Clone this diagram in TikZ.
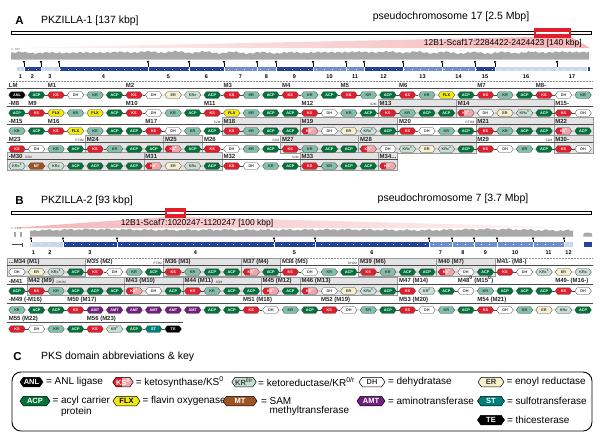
\documentclass[tikz,border=0pt]{standalone}
\usepackage{fontspec}
\setmainfont{Liberation Sans}
\usetikzlibrary{shapes.symbols, positioning}

\definecolor{ksred}{RGB}{226,30,44}
\definecolor{kspink}{RGB}{240,165,168}
\definecolor{acpgreen}{RGB}{0,114,58}
\definecolor{krteal}{RGB}{128,192,168}
\definecolor{krpale}{RGB}{200,224,212}
\definecolor{ercream}{RGB}{246,240,206}
\definecolor{flxyellow}{RGB}{242,232,20}
\definecolor{mtbrown}{RGB}{158,84,34}
\definecolor{amtpurple}{RGB}{112,32,122}
\definecolor{stteal}{RGB}{0,128,124}
\definecolor{genedark}{RGB}{36,66,152}
\definecolor{genemid}{RGB}{112,142,204}
\definecolor{genelight}{RGB}{202,214,238}
\definecolor{scafpink}{RGB}{244,180,182}
\definecolor{covgrey}{RGB}{168,168,168}
\definecolor{modgrey}{RGB}{228,228,228}

% domain labels
\newcommand\dtANL{ANL}
\newcommand\dtACP{ACP}
\newcommand\dtKS{KS}
\newcommand\dtKSo{KS\textsuperscript{0}}
\newcommand\dtKR{KR}
\newcommand\dtKRo{KR\textsuperscript{0}}
\newcommand\dtKRc{KRc}
\newcommand\dtKRco{KRc\textsuperscript{0}}
\newcommand\dtDH{DH}
\newcommand\dtER{ER}
\newcommand\dtFLX{FLX}
\newcommand\dtMT{MT}
\newcommand\dtAMT{AMT}
\newcommand\dtST{ST}
\newcommand\dtTE{TE}

\tikzset{
  dom/.style={signal, signal to=east and west, signal pointer angle=110,
    minimum width=16.5pt, minimum height=6.5pt, inner sep=0pt,
    draw=black!75, line width=0.3pt, font=\fontsize{3.8}{4}\selectfont\bfseries},
  leg/.style={dom, minimum height=9.5pt, line width=0.5pt, draw=black,
    font=\fontsize{7.5}{8}\selectfont\bfseries},
  dANL/.style={fill=black, text=white},
  dACP/.style={fill=acpgreen, text=white},
  dKS/.style={fill=ksred, text=white},
  dKSo/.style={fill=kspink, text=white, path picture={\fill[ksred]
    (path picture bounding box.south west) rectangle ([xshift=-1.5pt]path picture bounding box.north);}},
  dKR/.style={fill=krteal, text=black!80},
  dKRo/.style={fill=krpale, text=black!75},
  dKRc/.style={fill=krpale, text=black!75},
  dKRco/.style={fill=krpale, text=black!75},
  dDH/.style={fill=white, text=black!75},
  dER/.style={fill=ercream, text=black!80},
  dFLX/.style={fill=flxyellow, text=black},
  dMT/.style={fill=mtbrown, text=white},
  dAMT/.style={fill=amtpurple, text=white},
  dST/.style={fill=stteal, text=white},
  dTE/.style={fill=black, text=white},
  linker/.style={black!70, line width=0.4pt},
  modline/.style={black!70, line width=0.9pt},
  modlabel/.style={anchor=south west, inner sep=0.4pt, xshift=1pt, text=black!85,
    font=\fontsize{6}{7}\selectfont\bfseries},
  greybox/.style={fill=modgrey, draw=black!40, line width=0.4pt},
  note/.style={inner sep=0.3pt, text=black!80, font=\fontsize{3.2}{3.5}\selectfont},
  panel/.style={inner sep=0pt, font=\fontsize{11.5}{13}\selectfont\bfseries},
  title/.style={inner sep=0pt, font=\fontsize{10.5}{12}\selectfont},
  scaf/.style={inner sep=0pt, font=\fontsize{8.5}{10}\selectfont},
  genenum/.style={inner sep=0pt, font=\fontsize{5.5}{6}\selectfont\bfseries},
  covnum/.style={inner sep=0pt, text=black!60, font=\fontsize{2.8}{3}\selectfont},
  chrom/.style={draw=black, fill=white, line width=1.4pt},
  sep/.style={black!45, line width=0.5pt, dash pattern=on 0.6pt off 0.9pt},
  legtext/.style={inner sep=0.5pt, font=\fontsize{10}{12}\selectfont},
  keybox/.style={draw=black, line width=0.9pt, rounded corners=9pt}
}

% one row of domains, joined by linkers
\newcommand\domrow[3]{%
  \foreach \d [count=\i] in {#3} {
    \node[dom, d\d] (#1-\i) at ({17+(\i-1)*19.52}, #2) {\csname dt\d\endcsname};
    \pgfmathtruncatemacro\j{\i-1}
    \ifnum\j>0 \draw[linker] (#1-\j) -- (#1-\i); \fi
  }}

% module header: [box] name, row y, first domain, last domain, label
\newcommand\modhead[6][]{%
  \pgfmathsetmacro\ms{17+(#4-1.5)*19.52}%
  \pgfmathsetmacro\me{17+(#5-0.5)*19.52}%
  \path[#1] (\ms,#3-14) rectangle (\me,#3+4.5);
  \coordinate (#2-s) at (\ms,#3-7);
  \coordinate (#2-e) at (\me,#3-7);
  \draw[modline] (#2-s) -- (#2-e);
  \node[modlabel] (#2) at (#2-s) {#6};
}

\begin{document}
\begin{tikzpicture}[x=1pt, y=-1pt]
\useasboundingbox (0,0) rectangle (612,440);

% ---------- A: PKZILLA-1 locus ----------
\node[panel] (labA) at (19.5,21) {A};
\node[title, anchor=west] (titA) at (41,21) {PKZILLA-1 [137 kbp]};
\node[title] (chrA) at (451,17) {pseudochromosome 17 [2.5 Mbp]};
\shade[left color=scafpink!10, right color=scafpink] (11,48) -- (534,37) -- (571,37) -- (590,48) -- cycle;
\draw[chrom] (11.7,31.3) rectangle (591.3,34.7);
\fill[ksred] (534,28) rectangle (571,37.5);
\draw[white, line width=1.4pt] (536,33) -- (569,33);
\node[scaf, anchor=east] (scafA) at (582,43) {12B1-Scaf17:2284422-2424423 [140 kbp]};

% coverage
\fill[covgrey] (11,59.5) -- plot[domain=11:589, samples=240] (\x, {52.4+0.8*sin(mod(\x,6.8)*52.94)+0.5*sin(mod(\x,2.63)*136.9)+0.4*sin(mod(\x,1.157)*311.1)+0.4*sin(\x*1.7)}) -- (589,59.5) -- cycle;
\node[covnum, anchor=south west] (covA) at (11,51) {0 - 903};

% genes
\foreach \a/\b/\c/\n in {17/24/genelight/1, 24/41/genedark/2, 41/59/genelight/3, 59/148/genedark/4,
  148/189/genedark/5, 189/224/genedark/6, 224/257/genemid/7, 257/276/genemid/8, 276/313/genedark/9,
  313/346/genemid/10, 346/364/genemid/11, 364/403/genedark/12, 403/442/genemid/13, 442/475/genemid/14,
  475/495/genedark/15, 495/557/genelight/16, 557/587/genelight/17} {
  \fill[\c] (\a,66.5) rectangle (\b,71);
  \node[genenum] (gA\n) at ({(\a+\b)/2},76.5) {\n};
}
\fill[genedark] (587.5,66.5) rectangle (589.5,71);
\draw[white, line width=0.5pt, dash pattern=on 0.6pt off 7.4pt] (20,68.75) -- (586,68.75);
\foreach \x in {24,41,59,148,189,224,257,276,313,346,364,403,442,475,495,557} {
  \draw[white, line width=0.4pt] (\x,66.5) -- (\x,71);
  \fill (\x-1.3,61) -- (\x+1.3,61) -- (\x,63.6) -- cycle;
  \draw[line width=0.3pt] (\x,63) -- (\x,66.5);
}
\draw[sep] (11,81.5) -- (592,81.5);

% modules, row 1
\modhead{mLM}{95}{1}{2}{LM}
\modhead{mA1}{95}{3}{6}{M1}
\modhead{mA2}{95}{7}{11}{M2}
\modhead{mA3}{95}{12}{14}{M3}
\modhead{mA4}{95}{15}{17}{M4}
\modhead{mA5}{95}{18}{20}{M5}
\modhead{mA6}{95}{21}{24}{M6}
\modhead{mA7}{95}{25}{27}{M7}
\modhead{mA8}{95}{28}{30}{M8-}
% row 2
\modhead{mA8b}{113}{1}{1}{-M8}
\modhead{mA9}{113}{2}{6}{M9}
\modhead{mA10}{113}{7}{10}{M10}
\modhead{mA11}{113}{11}{15}{M11}
\modhead{mA12}{113}{16}{19}{M12}
\modhead[greybox]{mA13}{113}{20}{23}{M13}
\modhead[greybox]{mA14}{113}{24}{28}{M14}
\modhead{mA15}{113}{29}{30}{M15-}
\node[note, anchor=south east] (nA13) at ([xshift=-1pt]mA13-s) {S2M};
% row 3
\modhead{mA15b}{131}{1}{2}{-M15}
\modhead{mA16}{131}{3}{7}{M16}
\modhead{mA17}{131}{8}{11}{M17}
\modhead[greybox]{mA18}{131}{12}{15}{M18}
\modhead[greybox]{mA19}{131}{16}{20}{M19}
\modhead{mA20}{131}{21}{24}{M20}
\modhead[greybox]{mA21}{131}{25}{28}{M21}
\modhead[greybox]{mA22}{131}{29}{30}{M22}
\node[note, anchor=south east] (nA18) at ([xshift=-1pt]mA18-s) {S2M};
\node[note, anchor=south east] (nA21) at ([xshift=-1pt]mA21-s) {PT3M};
% row 4
\modhead{mA23}{149}{1}{4}{M23}
\modhead[greybox]{mA24}{149}{5}{8}{M24}
\modhead[greybox]{mA25}{149}{9}{10}{M25}
\modhead{mA26}{149}{11}{14}{M26}
\modhead[greybox]{mA27}{149}{15}{18}{M27}
\modhead[greybox]{mA28}{149}{19}{24}{M28}
\modhead{mA29}{149}{25}{28}{M29}
\modhead[greybox]{mA30}{149}{29}{30}{M30-}
\node[note, anchor=south east] (nA24) at ([xshift=-1pt]mA24-s) {PT3M};
\node[note, anchor=south east] (nA27) at ([xshift=-1pt]mA27-s) {S2M};
\node[note, anchor=south east] (nA30) at ([xshift=-1pt]mA30-s) {S2M};
% row 5
\modhead[greybox]{mA30b}{166}{1}{7}{-M30}
\modhead[greybox]{mA31}{166}{8}{11}{M31}
\modhead{mA32}{166}{12}{15}{M32}
\modhead[greybox]{mA33}{166}{16}{19}{M33}
\modhead[greybox]{mA34}{166}{20}{20}{M34...}
\node[note, anchor=south west] (nA30b) at ([xshift=1.5pt]mA30b.south east) {S3M};
\node[note, anchor=south east] (nA33) at ([xshift=-1pt]mA33-s) {S2M};

% domains
\domrow{a1}{95}{ANL,ACP,KS,DH,KR,ACP,KS,DH,ER,KRc,ACP,KS,KR,ACP,KS,KR,ACP,KS,KR,ACP,KS,KR,FLX,ACP,KS,KR,ACP,KS,DH,KR}
\domrow{a2}{113}{ACP,KS,FLX,KR,FLX,ACP,KS,DH,KR,ACP,KS,FLX,KR,ACP,ACP,KS,DH,KR,ACP,KS,KR,ACP,ACP,KSo,DH,ER,KRco,ACP,KS,DH}
\domrow{a3}{131}{KR,ACP,KS,FLX,KR,ACP,ACP,KS,DH,KR,ACP,KS,KR,ACP,ACP,KSo,DH,ER,KRco,ACP,KS,DH,KR,ACP,KS,KR,ACP,ACP,KSo,ACP}
\domrow{a4}{149}{KS,DH,KR,ACP,KS,KR,ACP,ACP,KSo,ACP,KS,DH,KR,ACP,KS,KR,ACP,ACP,KSo,DH,KRco,ER,KRco,ACP,KS,DH,KR,ACP,KS,DH}
\domrow{a5}{166}{KRco,MT,KRc,ACP,ACP,ACP,ACP,KSo,ER,KRc,ACP,KS,DH,KR,ACP,KS,KR,ACP,ACP,KSo}

% ---------- B: PKZILLA-2 locus ----------
\node[panel] (labB) at (19.5,201) {B};
\node[title, anchor=west] (titB) at (41,201) {PKZILLA-2 [93 kbp]};
\node[title] (chrB) at (453,199) {pseudochromosome 7 [3.7 Mbp]};
\shade[left color=scafpink, right color=scafpink!8] (11,228) -- (165,217) -- (186,217) -- (592,228) -- cycle;
\draw[chrom] (11.7,211.3) rectangle (591.3,214.7);
\fill[ksred] (165,208) rectangle (186,217.5);
\draw[white, line width=1.4pt] (167,213) -- (184,213);
\node[scaf] (scafB) at (197,223) {12B1-Scaf7:1020247-1120247 [100 kbp]};

% coverage
\fill[covgrey] (30,236.5) -- plot[domain=30:573, samples=220] (\x, {229.8+0.7*sin(mod(\x,7.3)*49.3)+0.5*sin(mod(\x,2.83)*127.2)+0.4*sin(mod(\x,1.229)*292.9)+0.4*sin(\x*2.1)}) -- (573,236.5) -- cycle;
\fill[covgrey] (583,236.5) -- (584,233) -- (588,232.5) -- (592,233.5) -- (592,236.5) -- cycle;
\fill[covgrey] (14,231.5) rectangle (16,236.5);
\fill[covgrey] (20,231.5) rectangle (22,236.5);
\node[covnum, anchor=south west] (covB) at (11,229.5) {0 - 1036};

% genes
\draw[black!70, line width=0.5pt] (12,244.5) -- (22,244.5);
\draw[black!70, line width=0.5pt] (22,242.5) -- (22,246.5);
\foreach \a/\b/\c/\n in {30/37/genelight/1, 37/63/genelight/2, 63/117/genedark/3, 117/274/genedark/4,
  274/315/genedark/5, 315/429/genedark/6, 429/452/genemid/7, 452/474/genemid/8, 474/497/genemid/9,
  497/533/genemid/10, 533/564/genemid/11, 564/573/genelight/12} {
  \fill[\c] (\a,242.3) rectangle (\b,246.7);
  \node[genenum] (gB\n) at ({(\a+\b)/2},253) {\n};
}
\fill[genedark] (584,242.3) rectangle (592,246.7);
\draw[white, line width=0.5pt, dash pattern=on 0.6pt off 7.4pt] (33,244.5) -- (572,244.5);
\foreach \x in {31,63,117,274,315,429,452,474,497,533,564} {
  \draw[white, line width=0.4pt] (\x,242.3) -- (\x,246.7);
  \fill (\x-1.3,237.6) -- (\x+1.3,237.6) -- (\x,240.2) -- cycle;
  \draw[line width=0.3pt] (\x,239.6) -- (\x,242.3);
}
\draw[sep] (11,258) -- (592,258);

% modules, row 1
\modhead[greybox]{mB34}{272}{1}{4}{...M34 (M1)}
\modhead{mB35}{272}{5}{8}{M35 (M2)}
\modhead[greybox]{mB36}{272}{9}{12}{M36 (M3)}
\modhead[greybox]{mB37}{272}{13}{14}{M37 (M4)}
\modhead{mB38}{272}{15}{18}{M38 (M5)}
\modhead[greybox]{mB39}{272}{19}{22}{M39 (M6)}
\modhead[greybox]{mB40}{272}{23}{25}{M40 (M7)}
\modhead{mB41}{272}{26}{30}{M41- (M8-)}
\node[note, anchor=south east] (nB36) at ([xshift=-1pt]mB36-s) {PT3M};
\node[note, anchor=south east] (nB39) at ([xshift=-1pt]mB39-s) {DH2M};
% row 2
\modhead{mB41b}{291}{1}{1}{-M41}
\modhead[greybox]{mB42}{291}{2}{6}{M42 (M9)}
\modhead[greybox]{mB43}{291}{7}{9}{M43 (M10)}
\modhead[greybox]{mB44}{291}{10}{13}{M44 (M11)}
\modhead[greybox]{mB45}{291}{14}{15}{M45 (M12)}
\modhead[greybox]{mB46}{291}{16}{20}{M46 (M13)}
\modhead{mB47}{291}{21}{23}{M47 (M14)}
\modhead{mB48}{291}{24}{28}{M48\textsuperscript{0} (M15\textsuperscript{0})}
\modhead{mB49}{291}{29}{30}{M49- (M16-)}
\node[note, anchor=south west] (nB42) at ([xshift=1.5pt]mB42.south east) {DH2M};
\node[note, anchor=south west] (nB44) at ([xshift=1.5pt]mB44.south east) {S3M};
% row 3
\modhead{mB49b}{310}{1}{3}{-M49 (-M16)}
\modhead{mB50}{310}{4}{12}{M50 (M17)}
\modhead{mB51}{310}{13}{16}{M51 (M18)}
\modhead{mB52}{310}{17}{20}{M52 (M19)}
\modhead{mB53}{310}{21}{24}{M53 (M20)}
\modhead{mB54}{310}{25}{30}{M54 (M21)}
% row 4
\modhead{mB55}{329}{1}{4}{M55 (M22)}
\modhead{mB56}{329}{5}{9}{M56 (M23)}

% domains
\domrow{b1}{272}{DH,ER,KRco,ACP,KS,DH,KR,ACP,KS,KR,ACP,ACP,KSo,ACP,KS,DH,KR,ACP,KS,KR,ACP,ACP,KSo,DH,ACP,KS,DH,KRco,ER,KRc}
\domrow{b2}{291}{ACP,KS,KR,ACP,ACP,ACP,KSo,DH,ACP,KS,KR,ACP,ACP,KSo,ACP,KSo,DH,ER,KRco,ACP,KS,KRo,ACP,DH,KR,ACP,ACP,ACP,KS,DH}
\domrow{b3}{310}{KR,ACP,ACP,KS,AMT,AMT,AMT,AMT,AMT,AMT,ACP,ACP,KS,DH,KR,ACP,KS,DH,KR,ACP,KS,DH,KR,ACP,KS,DH,KR,ER,KRc,ACP}
\domrow{b4}{329}{KS,DH,KR,ACP,KS,KRo,ACP,ST,TE}

% ---------- C: key ----------
\node[panel] (labC) at (17.5,357) {C};
\node[title, anchor=west] (titC) at (41,357) {PKS domain abbreviations \& key};
\draw[keybox] (12,372) rectangle (592,431);
\node[leg, dANL, minimum width=23pt] (kANL) at (31.5,382) {ANL};
\node[legtext, right=2pt of kANL] (tANL) {= ANL ligase};
\node[leg, dKSo, minimum width=20pt] (kKSo) at (123,382) {KS\textsuperscript{0}};
\node[legtext, right=1.5pt of kKSo] (tKSo) {= ketosynthase/KS\textsuperscript{0}};
\node[leg, dKRo, minimum width=22pt] (kKRo) at (244,382) {KR\textsuperscript{0/r}};
\node[legtext, right=1pt of kKRo] (tKRo) {= ketoreductase/KR\textsuperscript{0/r}};
\node[leg, dDH, minimum width=26pt] (kDH) at (372,382) {DH};
\node[legtext, right=2pt of kDH] (tDH) {= dehydratase};
\node[leg, dER, minimum width=26pt] (kER) at (491,382) {ER};
\node[legtext, right=1.5pt of kER] (tER) {= enoyl reductase};
\node[leg, dACP, minimum width=30pt] (kACP) at (35,401) {ACP};
\node[legtext, right=1.5pt of kACP] (tACP) {= acyl carrier};
\node[legtext, anchor=north west] (tACPb) at ([xshift=8.6pt]tACP.south west) {protein};
\node[leg, dFLX, minimum width=27pt] (kFLX) at (126.5,401) {FLX};
\node[legtext, right=1.5pt of kFLX] (tFLX) {= flavin oxygenase};
\node[leg, dMT, minimum width=34pt] (kMT) at (240,401) {MT};
\node[legtext, right=3pt of kMT] (tMT) {= SAM};
\node[legtext, anchor=north west] (tMTb) at ([xshift=8.6pt]tMT.south west) {methyltransferase};
\node[leg, dAMT, minimum width=28pt] (kAMT) at (371,401) {AMT};
\node[legtext, right=2pt of kAMT] (tAMT) {= aminotransferase};
\node[leg, dST, minimum width=27pt] (kST) at (491,401) {ST};
\node[legtext, right=1.5pt of kST] (tST) {= sulfotransferase};
\node[leg, dTE, minimum width=27pt] (kTE) at (491,420) {TE};
\node[legtext, right=1.5pt of kTE] (tTE) {= thicesterase};
\end{tikzpicture}
\end{document}
